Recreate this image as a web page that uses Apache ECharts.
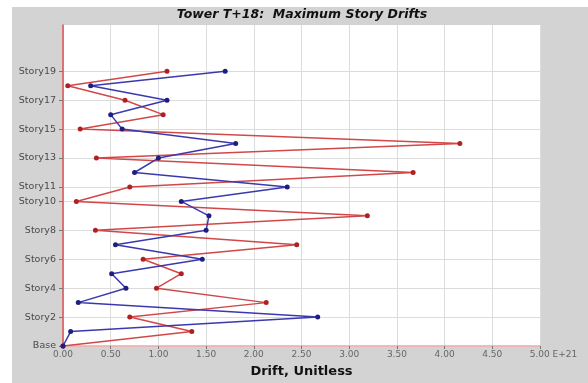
<!DOCTYPE html>
<html>
<head>
<meta charset="utf-8">
<script src="https://cdn.jsdelivr.net/npm/echarts@6/dist/echarts.min.js"></script>
<style>html,body{margin:0;padding:0;background:#fff}#c{width:588px;height:383px}</style>
</head>
<body>
<div id="c"></div>
<script>
var storyNames = ['Base','Story1','Story2','Story3','Story4','Story5','Story6','Story7','Story8','Story9','Story10',
  'Story11','Story12','Story13','Story14','Story15','Story16','Story17','Story18','Story19'];
var labeledStories = [0,2,4,6,8,10,11,13,15,17,19];
var blueDrift = [0, 0.08, 2.67, 0.16, 0.66, 0.51, 1.46, 0.55, 1.50, 1.53, 1.24, 2.35, 0.75, 1.00, 1.81, 0.62, 0.50, 1.09, 0.29, 1.70];
var redDrift  = [0, 1.35, 0.70, 2.13, 0.98, 1.24, 0.84, 2.45, 0.34, 3.19, 0.14, 0.70, 3.67, 0.35, 4.16, 0.18, 1.05, 0.65, 0.05, 1.09];
var xTicks = [0, 0.5, 1, 1.5, 2, 2.5, 3, 3.5, 4, 4.5, 5];

var chart = echarts.init(document.getElementById('c'), null, {renderer: 'canvas'});
var font = 'DejaVu Sans';
chart.setOption({
  animation: false,
  backgroundColor: '#ffffff',
  graphic: [{
    type: 'rect', z: -10, silent: true,
    shape: {x: 12, y: 7, width: 576, height: 376},
    style: {fill: '#d3d3d3'}
  }],
  title: {
    text: 'Tower T+18:  Maximum Story Drifts',
    left: 302, top: 8, textAlign: 'center', padding: 0,
    textStyle: {fontFamily: font, fontSize: 12.5, fontWeight: 'bold', fontStyle: 'italic', color: '#111'}
  },
  grid: {
    left: 63, right: 48, top: 25, bottom: 30,
    show: true, backgroundColor: '#ffffff', borderWidth: 0
  },
  xAxis: {
    type: 'value', min: 0, max: 5, interval: 0.5,
    name: 'Drift, Unitless', nameLocation: 'middle', nameGap: 19,
    nameTextStyle: {fontFamily: font, fontSize: 13, fontWeight: 'bold', color: '#111'},
    axisLine: {show: true, lineStyle: {color: '#f0a8a8', width: 1.5}},
    axisTick: {show: true, length: 3, lineStyle: {color: '#777'}},
    axisLabel: {
      fontFamily: font, fontSize: 9, color: '#666', margin: 4,
      formatter: function (v) {
        return v === 5 ? '{p|}{a|5.00 E+21}' : '{a|' + v.toFixed(2) + '}';
      },
      rich: {a: {fontFamily: font, fontSize: 9, color: '#666'}, p: {width: 27}}
    },
    splitLine: {show: true, lineStyle: {color: '#dcdcdc', width: 1}}
  },
  yAxis: {
    type: 'value', min: 0, max: 22.2,
    axisLine: {show: true, lineStyle: {color: '#e05050', width: 1.5}},
    axisTick: {show: true, length: 4, customValues: labeledStories, lineStyle: {color: '#777'}},
    axisLabel: {
      customValues: labeledStories,
      fontFamily: font, fontSize: 9.5, color: '#4a4a4a', margin: 7,
      formatter: function (v) { return storyNames[v] || ''; }
    },
    splitLine: {show: true, lineStyle: {color: '#dcdcdc', width: 1}}
  },
  series: [{
    name: 'red', type: 'line',
    data: redDrift.map(function (v, i) { return [v, i]; }),
    symbol: 'circle', symbolSize: 5,
    lineStyle: {color: '#d24848', width: 1.5},
    itemStyle: {color: '#b02020'},
    z: 3
  }, {
    name: 'blue', type: 'line',
    data: blueDrift.map(function (v, i) { return [v, i]; }),
    symbol: 'circle', symbolSize: 5,
    lineStyle: {color: '#3a3aae', width: 1.5},
    itemStyle: {color: '#1e1e80'},
    z: 4
  }]
});
</script>
</body>
</html>
